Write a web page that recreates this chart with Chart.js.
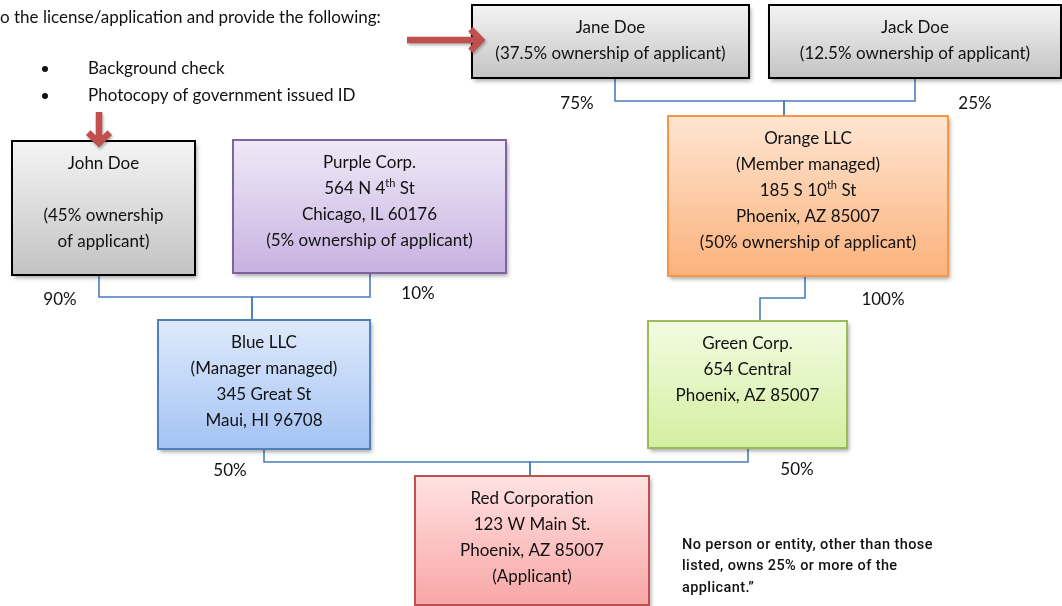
<!DOCTYPE html>
<html>
<head>
<meta charset="utf-8">
<script src="https://cdn.jsdelivr.net/npm/chart.js@4.4.0/dist/chart.umd.min.js"></script>
<style>
html, body { margin: 0; padding: 0; background: #fff; }
#wrap { width: 1062px; height: 606px; }
</style>
</head>
<body>
<div id="wrap"><canvas id="chart" width="1062" height="606"></canvas></div>
<script>
// entities of the ownership tree (^..^ marks superscript)
const names = ['Jane Doe', 'Jack Doe', 'John Doe', 'Purple Corp.', 'Orange LLC', 'Blue LLC', 'Green Corp.', 'Red Corporation'];
const details = [
    ['(37.5% ownership of applicant)'],
    ['(12.5% ownership of applicant)'],
    ['', '(45% ownership', 'of applicant)'],
    ['564 N 4^th^ St', 'Chicago, IL 60176', '(5% ownership of applicant)'],
    ['(Member managed)', '185 S 10^th^ St', 'Phoenix, AZ 85007', '(50% ownership of applicant)'],
    ['(Manager managed)', '345 Great St', 'Maui, HI 96708'],
    ['654 Central', 'Phoenix, AZ 85007'],
    ['123 W Main St.', 'Phoenix, AZ 85007', '(Applicant)']
];
const kinds = ['gray', 'gray', 'gray', 'purple', 'orange', 'blue', 'green', 'red'];

// ownership links: owner -> owned entity, with stake
const owners = [0, 1, 2, 3, 4, 5, 6];
const owned = [4, 4, 5, 5, 6, 7, 7];
const stakes = ['75%', '25%', '90%', '10%', '100%', '50%', '50%'];

// page text
const introText = 'o the license/application and provide the following:';
const bullets = ['Background check', 'Photocopy of government issued ID'];
const note = ['No person or entity, other than those', 'listed, owns 25% or more of the', 'applicant.\u201d'];

// ---- layout (page units) ----
const boxes = [
    [472, 5, 749, 78], [769, 5, 1061, 78], [12, 141, 195, 275], [233, 140, 506, 273],
    [668, 116, 948, 276], [158, 320, 370, 449], [648, 321, 847, 448], [415, 476, 649, 605]
];
const ownerX = [615, 915, 99, 370, 805, 264, 748];
const busY = [101, 101, 297, 297, 298, 462, 462];
const childX = [784, 784, 252, 252, 760, 530, 530];
const stakePos = [[577, 104], [975, 104], [60, 300], [418, 294], [883, 300], [230, 471], [797, 470]];
const arrows = [[99, 112, 99, 147], [407, 40, 485, 40]];

const styles = {
    gray:   { top: '#f4f4f4', bottom: '#c3c3c3', border: '#000000' },
    purple: { top: '#efe9f7', bottom: '#c8b2e1', border: '#8064a2' },
    orange: { top: '#fee5d1', bottom: '#fbb27c', border: '#f79646' },
    blue:   { top: '#dfeafb', bottom: '#a3c3f4', border: '#4f81bd' },
    green:  { top: '#f3fbe2', bottom: '#d3efa0', border: '#9bbb59' },
    red:    { top: '#ffe2e2', bottom: '#f8a6a6', border: '#c0504d' }
};
const FONT = 'Lato, "Liberation Sans", sans-serif';
const BODY_SIZE = 17;

// connector polylines built from the link tables
const linkSets = owners.map((o, i) => {
    const ob = boxes[o], cb = boxes[owned[i]];
    return {
        data: [
            { x: ownerX[i], y: ob[3] },
            { x: ownerX[i], y: busY[i] },
            { x: childX[i], y: busY[i] },
            { x: childX[i], y: cb[1] }
        ],
        borderColor: '#4a7ebb',
        borderWidth: 1.6,
        pointRadius: 0,
        fill: false,
        tension: 0
    };
});

// draw a line of text with optional ^sup^ parts, centred or left aligned
function richText(ctx, str, x, y, size, align) {
    const parts = str.split('^');
    let w = 0;
    parts.forEach((p, k) => {
        ctx.font = (k % 2 ? size * 0.65 : size) + 'px ' + FONT;
        w += ctx.measureText(p).width;
    });
    let cx = align === 'left' ? x : x - w / 2;
    ctx.textAlign = 'left';
    ctx.textBaseline = 'middle';
    parts.forEach((p, k) => {
        const sup = k % 2 === 1;
        ctx.font = (sup ? size * 0.65 : size) + 'px ' + FONT;
        ctx.fillText(p, cx, sup ? y - size * 0.3 : y);
        cx += ctx.measureText(p).width;
    });
}

const treePlugin = {
    id: 'tree',
    afterDatasetsDraw(chart) {
        const ctx = chart.ctx;
        const sx = v => chart.scales.x.getPixelForValue(v);
        const sy = v => chart.scales.y.getPixelForValue(v);

        // boxes
        boxes.forEach((b, i) => {
            const st = styles[kinds[i]];
            const x1 = sx(b[0]), y1 = sy(b[1]), x2 = sx(b[2]), y2 = sy(b[3]);
            const g = ctx.createLinearGradient(0, y1, 0, y2);
            g.addColorStop(0, st.top);
            g.addColorStop(1, st.bottom);
            ctx.save();
            ctx.shadowColor = 'rgba(0,0,0,0.35)';
            ctx.shadowBlur = 4;
            ctx.shadowOffsetX = 2;
            ctx.shadowOffsetY = 3;
            ctx.fillStyle = g;
            ctx.fillRect(x1, y1, x2 - x1, y2 - y1);
            ctx.restore();
            ctx.strokeStyle = st.border;
            ctx.lineWidth = 2;
            ctx.strokeRect(x1, y1, x2 - x1, y2 - y1);

            ctx.fillStyle = '#111';
            const lines = [names[i]].concat(details[i]);
            lines.forEach((t, k) => richText(ctx, t, (x1 + x2) / 2, y1 + 23 + k * 26, BODY_SIZE, 'center'));
        });

        // stake labels
        ctx.fillStyle = '#111';
        stakes.forEach((s, i) => richText(ctx, s, sx(stakePos[i][0]), sy(stakePos[i][1]), BODY_SIZE, 'center'));

        // red arrows
        ctx.save();
        ctx.strokeStyle = '#c0504d';
        ctx.lineWidth = 6.5;
        ctx.lineJoin = 'miter';
        ctx.shadowColor = 'rgba(0,0,0,0.3)';
        ctx.shadowBlur = 3;
        ctx.shadowOffsetX = 1;
        ctx.shadowOffsetY = 2;
        arrows.forEach(a => {
            const x1 = sx(a[0]), y1 = sy(a[1]), x2 = sx(a[2]), y2 = sy(a[3]);
            const ang = Math.atan2(y2 - y1, x2 - x1);
            const h = 15;
            const tx = x2 - Math.cos(ang) * 4, ty = y2 - Math.sin(ang) * 4;
            ctx.beginPath();
            ctx.moveTo(x1, y1);
            ctx.lineTo(tx, ty);
            ctx.moveTo(tx - h * Math.cos(ang - 0.8), ty - h * Math.sin(ang - 0.8));
            ctx.lineTo(tx, ty);
            ctx.lineTo(tx - h * Math.cos(ang + 0.8), ty - h * Math.sin(ang + 0.8));
            ctx.stroke();
        });
        ctx.restore();

        // intro text and bullets
        ctx.fillStyle = '#111';
        richText(ctx, introText, sx(0), sy(18), BODY_SIZE, 'left');
        bullets.forEach((t, k) => {
            ctx.beginPath();
            ctx.arc(sx(45), sy(69 + k * 27), 3, 0, Math.PI * 2);
            ctx.fill();
            richText(ctx, t, sx(88), sy(69 + k * 27), BODY_SIZE, 'left');
        });

        // note
        ctx.save();
        ctx.font = '500 14.5px Roboto, sans-serif';
        ctx.letterSpacing = '0.4px';
        ctx.textAlign = 'left';
        ctx.textBaseline = 'middle';
        note.forEach((t, k) => ctx.fillText(t, sx(682), sy(545 + k * 21.5)));
        ctx.restore();
    }
};

new Chart(document.getElementById('chart'), {
    type: 'line',
    data: { datasets: linkSets },
    options: {
        responsive: false,
        animation: false,
        devicePixelRatio: 1,
        layout: { padding: 0 },
        scales: {
            x: { type: 'linear', min: 0, max: 1062, display: false },
            y: { type: 'linear', min: 0, max: 606, reverse: true, display: false }
        },
        plugins: { legend: { display: false }, tooltip: { enabled: false } }
    },
    plugins: [treePlugin]
});
</script>
</body>
</html>
